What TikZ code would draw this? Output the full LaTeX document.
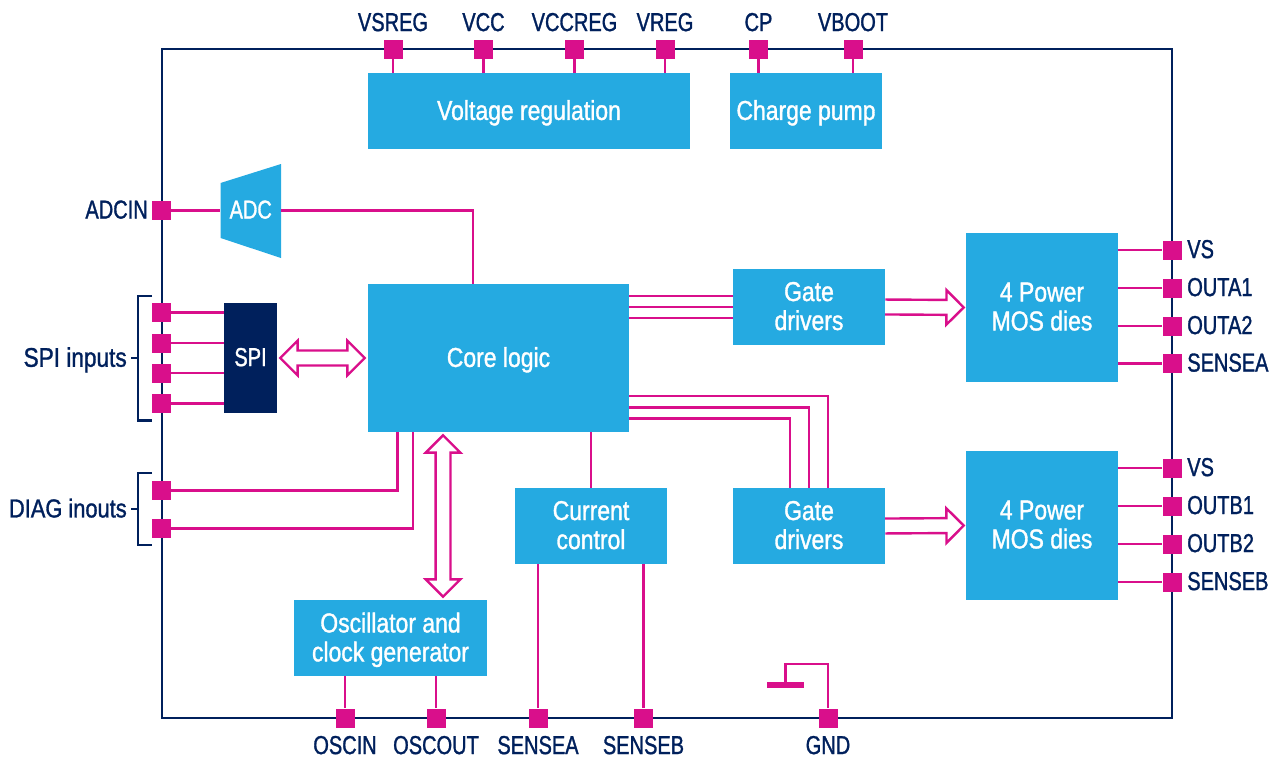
\documentclass[tikz,border=0pt]{standalone}
\usepackage{fontspec}
\setmainfont[FakeStretch=0.84,FakeBold=1.2]{Liberation Sans}
\newfontfamily\capsfont[FakeStretch=0.77,FakeBold=1.2]{Liberation Sans}
\usetikzlibrary{calc}

\definecolor{stblue}{HTML}{25AAE1}
\definecolor{stpink}{HTML}{D90F8B}
\definecolor{stnavy}{HTML}{00205C}

\tikzset{
  bluebox/.style 2 args={fill=stblue, text=white, align=center, inner sep=0pt, text depth=1.5pt,
    font=\fontsize{20.5}{21.75}\selectfont, minimum width=#1*0.75pt, minimum height=#2*0.75pt},
  pinbox/.style={fill=stpink, inner sep=0pt, minimum size=14.25pt},
  pintext/.style={text=stnavy, inner sep=0pt, text depth=1.5pt, font=\capsfont\fontsize{19.5}{21.75}\selectfont},
  wire/.style={draw=stpink, line width=1.8pt},
  outline/.style={draw=stnavy, line width=2.2pt},
  fatright/.style={wire, fill=white, to path={
    let \p1=($(\tikztotarget)-(\tikztostart)$), \n1={atan2(\y1,\x1)}, \n2={veclen(\x1,\y1)} in
    ++(\n1+90:5.6pt) -- ++(\n1:\n2-14.5pt) -- ++(\n1+90:7.4pt) -- ++(\n1-45:18.38pt)
    -- ++(\n1-135:18.38pt) -- ++(\n1+90:7.4pt) -- ++(\n1+180:\n2-14.5pt)}},
  fatboth/.style={wire, fill=white, to path={
    let \p1=($(\tikztotarget)-(\tikztostart)$), \n1={atan2(\y1,\x1)}, \n2={veclen(\x1,\y1)} in
    ++(\n1:2.25pt) -- ++(\n1+45:18.38pt) -- ++(\n1-90:7.4pt) -- ++(\n1:\n2-30.5pt) -- ++(\n1+90:7.4pt)
    -- ++(\n1-45:18.38pt) -- ++(\n1-135:18.38pt) -- ++(\n1+90:7.4pt) -- ++(\n1+180:\n2-30.5pt)
    -- ++(\n1-90:7.4pt) -- cycle}},
}

\begin{document}
\begin{tikzpicture}[x=0.75pt, y=-0.75pt]
  \useasboundingbox (0,0) rectangle (1279,757);

  % package outline
  \draw[outline] (162,49) rectangle (1172,718);

  % blocks
  \node[bluebox={322}{76}] (vreg) at (529,111) {Voltage regulation};
  \node[bluebox={152}{76}] (pump) at (806,111) {Charge pump};
  \fill[stblue] (220.5,183) -- (281,164) -- (281,258) -- (220.5,238) -- cycle;
  \node[bluebox={60.5}{55}, fill=none, font=\capsfont\fontsize{19.5}{21.75}\selectfont] (adc) at (250.75,210.5) {ADC};
  \node[bluebox={53}{110}, fill=stnavy, font=\capsfont\fontsize{19.5}{21.75}\selectfont] (spi) at (250.5,358) {SPI};
  \node[bluebox={261}{148}] (core) at (498.5,358) {Core logic};
  \node[bluebox={152}{76}] (gatea) at (809,307) {Gate\\drivers};
  \node[bluebox={152}{76}] (gateb) at (809,526) {Gate\\drivers};
  \node[bluebox={152}{149}] (mosa) at (1042,307.5) {4 Power\\MOS dies};
  \node[bluebox={152}{149}] (mosb) at (1042,525.5) {4 Power\\MOS dies};
  \node[bluebox={152}{76}] (current) at (591,526) {Current\\control};
  \node[bluebox={193}{76}] (osc) at (390.5,638) {Oscillator and\\clock generator};

  % pins and their names
  \foreach \name/\x/\txt in {vsreg/393/VSREG, vcc/483.5/VCC, vccreg/574.5/VCCREG, vregp/665/VREG, cp/758.5/CP, vboot/853/VBOOT} {
    \node[pinbox] (\name) at (\x,49.5) {};
    \node[pintext] (\name txt) at (\x,23) {\txt};
  }
  \foreach \name/\x/\txt in {oscin/345/OSCIN, oscout/436/OSCOUT, sensea/538/SENSEA, senseb/643.5/SENSEB, gnd/828/GND} {
    \node[pinbox] (\name) at (\x,718) {};
    \node[pintext] (\name txt) at (\x,746) {\txt};
  }
  \foreach \name/\y/\txt in {vsa/250/VS, outaa/288/OUTA1, outab/326/OUTA2, senseaa/363.5/SENSEA, vsb/468/VS, outba/506/OUTB1, outbb/544/OUTB2, sensebb/582/SENSEB} {
    \node[pinbox] (\name) at (1172,\y) {};
    \node[pintext, anchor=west] (\name txt) at (1187,\y) {\txt};
  }
  \foreach \name/\y in {spia/312.5, spib/343, spic/373, spid/403.5, diaga/490.5, diagb/528.5} {
    \node[pinbox] (\name) at (161.5,\y) {};
  }
  \node[pinbox] (adcin) at (161.5,210.5) {};
  \node[pintext, anchor=east] (adcintxt) at (148,210.5) {ADCIN};
  \node[pintext, anchor=east, font=\fontsize{20.2}{21.75}\selectfont] (spitxt) at (127,358) {SPI inputs};
  \node[pintext, anchor=east, font=\fontsize{19.5}{21.75}\selectfont] (diagtxt) at (127,509) {DIAG inouts};

  % brackets
  \draw[outline] (152,296) -| (138,420.5) -- (152,420.5);
  \draw[outline] (spitxt.east) ++(4,0) -- (138,358);
  \draw[outline] (152,473) -| (138,545) -- (152,545);
  \draw[outline] (diagtxt.east) ++(4,0) -- (138,509);

  % wires
  \foreach \p in {vsreg, vcc, vccreg, vregp} {
    \draw[wire] (\p) -- (\p |- vreg.north);
  }
  \foreach \p in {cp, vboot} {
    \draw[wire] (\p) -- (\p |- pump.north);
  }
  \draw[wire] (adcin) -- (adc.west);
  \draw[wire] (adc.east) -| ([xshift=-19.1pt]core.north);
  \foreach \p in {spia, spib, spic, spid} {
    \draw[wire] (\p) -- (\p -| spi.west);
  }
  \draw[wire] (diaga) -| ([xshift=-75.8pt]core.south);
  \draw[wire] (diagb) -| ([xshift=-64.3pt]core.south);
  \foreach \d in {-8.4pt,0pt,8.4pt} {
    \draw[wire] ([yshift=\d]gatea.west) -- ([yshift=\d]gatea.west -| core.east);
  }
  \foreach \dy/\dx in {28.5pt/14.25pt, 37.1pt/0pt, 45.4pt/-14.25pt} {
    \draw[wire] ([yshift=-\dy]core.east) -| ([xshift=\dx]gateb.north);
  }
  \draw[wire] (current.north) -- (current.north |- core.south);
  \foreach \p in {sensea, senseb} {
    \draw[wire] (\p) -- (\p |- current.south);
  }
  \foreach \p in {oscin, oscout} {
    \draw[wire] (\p) -- (\p |- osc.south);
  }
  \foreach \p in {vsa, outaa, outab, senseaa} {
    \draw[wire] (\p) -- (\p -| mosa.east);
  }
  \foreach \p in {vsb, outba, outbb, sensebb} {
    \draw[wire] (\p) -- (\p -| mosb.east);
  }

  % ground
  \coordinate (gndbar) at (785.5,685);
  \draw[wire] (gnd) |- (828,664) -| (gndbar);
  \draw[stpink, line width=3.8pt] (767,685) -- (804,685);

  % double arrows
  \draw[fatboth] (spi.east) to (core.west);
  \draw[fatboth] ([xshift=-41.6pt]core.south) to ([xshift=39.4pt]osc.north);
  \draw[fatright] (gatea.east) to (mosa.west);
  \draw[fatright] (gateb.east) to (mosb.west);
\end{tikzpicture}
\end{document}
